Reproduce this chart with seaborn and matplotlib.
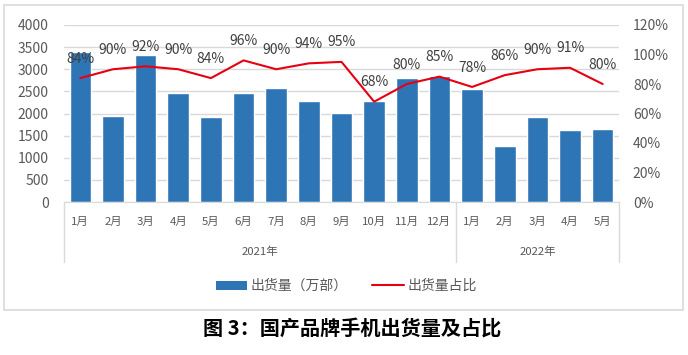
import numpy as np
import pandas as pd
import matplotlib
matplotlib.use("Agg")
import matplotlib.pyplot as plt
import matplotlib.transforms as mtransforms
from matplotlib.patches import Patch, Rectangle
from matplotlib.lines import Line2D
import seaborn as sns

# data
years = ["2021年"] * 12 + ["2022年"] * 5
months = ["1月", "2月", "3月", "4月", "5月", "6月", "7月", "8月", "9月", "10月", "11月", "12月",
          "1月", "2月", "3月", "4月", "5月"]
shipments = [3390, 1950, 3330, 2470, 1925, 2455, 2580, 2275, 2015, 2280, 2800, 2845,
             2560, 1270, 1910, 1635, 1650]
share = [84, 90, 92, 90, 84, 96, 90, 94, 95, 68, 80, 85, 78, 86, 90, 91, 80]
year_labels = ["2021年", "2022年"]
title = "图 3：国产品牌手机出货量及占比"

BAR = "#2E75B6"
RED = "#E60012"
GRID = "#D9D9D9"
TXT = "#595959"

sns.set_style("white")
plt.rcParams["font.family"] = ["Noto Sans CJK SC", "DejaVu Sans"]

df = pd.DataFrame({"key": [f"{y}{m}" for y, m in zip(years, months)],
                   "month": months, "year": years,
                   "shipments": shipments, "share": np.array(share) / 100})
df["pos"] = np.arange(len(df))

W, H = 688, 355
fig = plt.figure(figsize=(W / 100, H / 100), dpi=100)
ax = fig.add_axes([64 / W, 1 - 202 / H, (619 - 64) / W, (202 - 25) / H])

sns.barplot(data=df, x="key", y="shipments", order=df["key"], color=BAR,
            saturation=1, width=0.66, errorbar=None, ax=ax)
ax.set_xlim(-0.5, len(df) - 0.5)
ax.set_ylim(0, 4000)
ax.set_yticks(np.arange(0, 4001, 500))
ax.yaxis.grid(True, color=GRID, linewidth=1)
ax.set_axisbelow(True)
ax.set_xlabel("")
ax.set_ylabel("")
ax.set_xticks(df["pos"])
ax.set_xticklabels(df["month"], va="center")
ax.tick_params(axis="x", length=0, pad=14.4, labelsize=8.2, labelcolor=TXT)
ax.tick_params(axis="y", length=0, pad=11, labelsize=10, labelcolor=TXT)
for s in ["top", "left", "right"]:
    ax.spines[s].set_visible(False)
ax.spines["bottom"].set_color(GRID)

ax2 = ax.twinx()
sns.lineplot(data=df, x="pos", y="share", color=RED, linewidth=1.5, ax=ax2)
ax2.set_xlim(-0.5, len(df) - 0.5)
ax2.set_ylim(0, 1.2)
ax2.set_yticks(np.arange(0, 1.21, 0.2))
ax2.set_yticklabels([f"{int(round(v * 100))}%" for v in np.arange(0, 1.21, 0.2)])
ax2.tick_params(axis="y", length=0, pad=10, labelsize=10, labelcolor=TXT)
ax2.set_xlabel("")
ax2.set_ylabel("")
for s in ax2.spines.values():
    s.set_visible(False)

for p, v in zip(df["pos"], df["share"]):
    ax2.annotate(f"{int(round(v * 100))}%", (p, v), xytext=(0, 14), textcoords="offset points",
                 ha="center", va="center", fontsize=10, color="#404040")

# multi-level category axis: year groups and separators
tr = mtransforms.blended_transform_factory(ax.transData, fig.transFigure)
for xs in [-0.5, 11.5, len(df) - 0.5]:
    fig.add_artist(Line2D([xs, xs], [1 - 202 / H, 1 - 262 / H], transform=tr,
                          color=GRID, linewidth=1))
for yl in year_labels:
    sub = df[df["year"] == yl]["pos"]
    fig.text((sub.min() + sub.max()) / 2, 1 - 252 / H, yl, transform=tr,
             ha="center", va="center", fontsize=8.2, color=TXT)

handles = [Patch(facecolor=BAR, edgecolor="none"), Line2D([], [], color=RED, linewidth=1.5)]
fig.legend(handles, ["出货量（万部）", "出货量占比"], loc="center", bbox_to_anchor=(346 / W, 1 - 286 / H),
           ncol=2, frameon=False, fontsize=10, labelcolor=TXT, handlelength=2.3,
           handleheight=0.6, handletextpad=0.2, columnspacing=1.8)

fig.add_artist(Rectangle((4 / W, 1 - 310 / H), 679 / W, 305 / H, transform=fig.transFigure,
                         fill=False, edgecolor=GRID, linewidth=1.2))
fig.text(352 / W, 1 - 328 / H, title, ha="center", va="center", fontsize=14.5,
         fontweight="bold", color="#000000")

fig.savefig("out.png", dpi=100)
